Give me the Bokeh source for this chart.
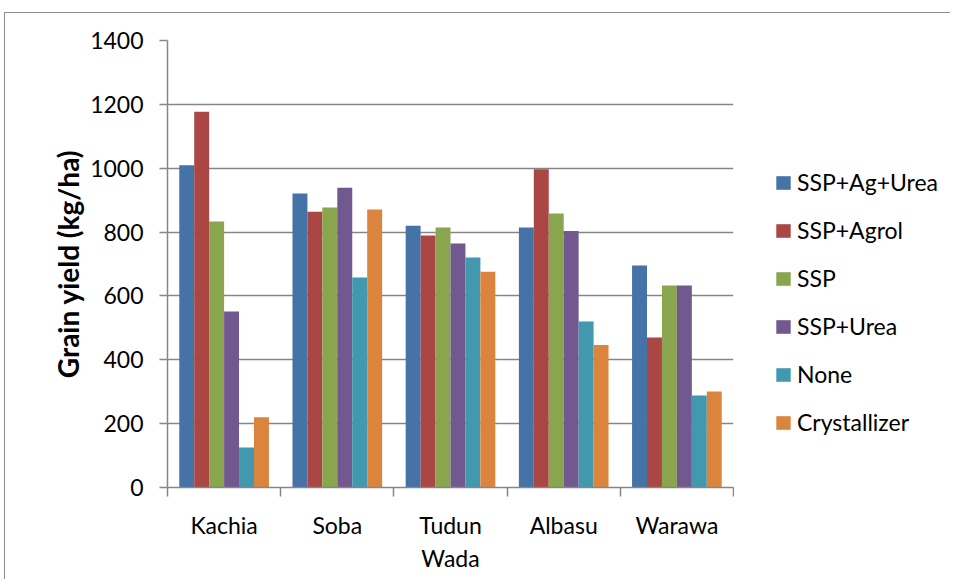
from bokeh.plotting import figure
from bokeh.layouts import row
from bokeh.models import (ColumnDataSource, FixedTicker, Legend, LegendItem,
                          Range1d)
from bokeh.embed import file_html
from bokeh.resources import INLINE

categories = ["Kachia", "Soba", "Tudun\nWada", "Albasu", "Warawa"]
series_names = ["SSP+Ag+Urea", "SSP+Agrol", "SSP", "SSP+Urea", "None", "Crystallizer"]
ssp_ag_urea = [1009, 921, 820, 814, 695]
ssp_agrol = [1177, 864, 789, 997, 470]
ssp = [833, 877, 814, 858, 633]
ssp_urea = [551, 939, 764, 803, 633]
none_ = [125, 658, 720, 520, 288]
crystallizer = [220, 871, 676, 446, 301]
y_ticks = [0, 200, 400, 600, 800, 1000, 1200, 1400]

series_values = [ssp_ag_urea, ssp_agrol, ssp, ssp_urea, none_, crystallizer]
colors = ["#4572A7", "#AA4643", "#89A54E", "#71588F", "#4198AF", "#DB843D"]

FONT = "Lato"
GRAY = "#868686"
H = 566

p = figure(width=729, height=H, output_backend="svg", toolbar_location=None,
           x_range=Range1d(0, len(categories)), y_range=Range1d(0, 1400),
           min_border_left=162, min_border_right=1, min_border_top=27,
           min_border_bottom=92)
p.outline_line_color = None
p.background_fill_color = "white"
p.border_fill_color = "white"

bw = 0.132
centers = [i + 0.5 for i in range(len(categories))]
for j, (name, vals, c) in enumerate(zip(series_names, series_values, colors)):
    src = ColumnDataSource(dict(x=[cx + (j - 2.5) * bw for cx in centers], top=vals))
    p.vbar(x="x", top="top", width=bw, source=src, fill_color=c, line_color=None)

# x axis: labels at centres, tick marks at category boundaries
xa = p.xaxis[0]
xa.ticker = FixedTicker(ticks=centers, minor_ticks=list(range(len(categories) + 1)))
xa.major_label_overrides = {cx: lab for cx, lab in zip(centers, categories)}
xa.major_tick_out = 0
xa.major_tick_in = 0
xa.minor_tick_out = 9
xa.minor_tick_in = 0
xa.minor_tick_line_color = GRAY
xa.minor_tick_line_width = 1.5
xa.axis_line_color = GRAY
xa.axis_line_width = 1.5
xa.major_label_text_font = FONT
xa.major_label_text_font_size = "23px"
xa.major_label_text_color = "black"
xa.major_label_standoff = 14
xa.major_label_text_line_height = 1.2

ya = p.yaxis[0]
ya.ticker = FixedTicker(ticks=y_ticks)
ya.minor_tick_line_color = None
ya.major_tick_out = 8
ya.major_tick_in = 0
ya.major_tick_line_color = GRAY
ya.major_tick_line_width = 1.5
ya.axis_line_color = GRAY
ya.axis_line_width = 1.5
ya.major_label_text_font = FONT
ya.major_label_text_font_size = "23px"
ya.major_label_text_color = "black"
ya.major_label_standoff = 16
ya.axis_label = "Grain yield (kg/ha)"
ya.axis_label_text_font = FONT
ya.axis_label_text_font_style = "bold"
ya.axis_label_text_font_size = "28px"
ya.axis_label_text_color = "black"
ya.axis_label_standoff = 2

p.xgrid.grid_line_color = None
p.ygrid.grid_line_color = GRAY
p.ygrid.grid_line_width = 1.5
p.ygrid.ticker = FixedTicker(ticks=y_ticks[1:])

# legend panel
lp = figure(width=216, height=H, output_backend="svg", toolbar_location=None,
            x_range=Range1d(0, 1), y_range=Range1d(0, 1),
            min_border_left=0, min_border_right=0, min_border_top=0,
            min_border_bottom=0)
lp.axis.visible = False
lp.grid.visible = False
lp.outline_line_color = None
lp.background_fill_color = "white"
lp.border_fill_color = "white"
items = []
for name, c in zip(series_names, colors):
    # placeholder bar outside the visible range, only used for the legend swatch
    r = lp.vbar(x=[5], top=[1], width=0.1, fill_color=c, line_color=None)
    items.append(LegendItem(label=name, renderers=[r]))

legend = Legend(items=items, location=(40, 51), orientation="vertical")
legend.padding = 0
legend.margin = 0
legend.border_line_color = None
legend.background_fill_alpha = 0
legend.glyph_width = 18
legend.glyph_height = 17
legend.label_standoff = 5
legend.spacing = 20
legend.label_text_font = FONT
legend.label_text_font_size = "23px"
legend.label_text_color = "black"
lp.add_layout(legend, "center")

layout = row(p, lp)
layout.styles = {"border-top": "1.5px solid #8c8c8c",
                 "border-left": "1.5px solid #8c8c8c",
                 "margin-top": "12px", "margin-left": "4px"}

open("out.html", "w").write(file_html(layout, INLINE))
